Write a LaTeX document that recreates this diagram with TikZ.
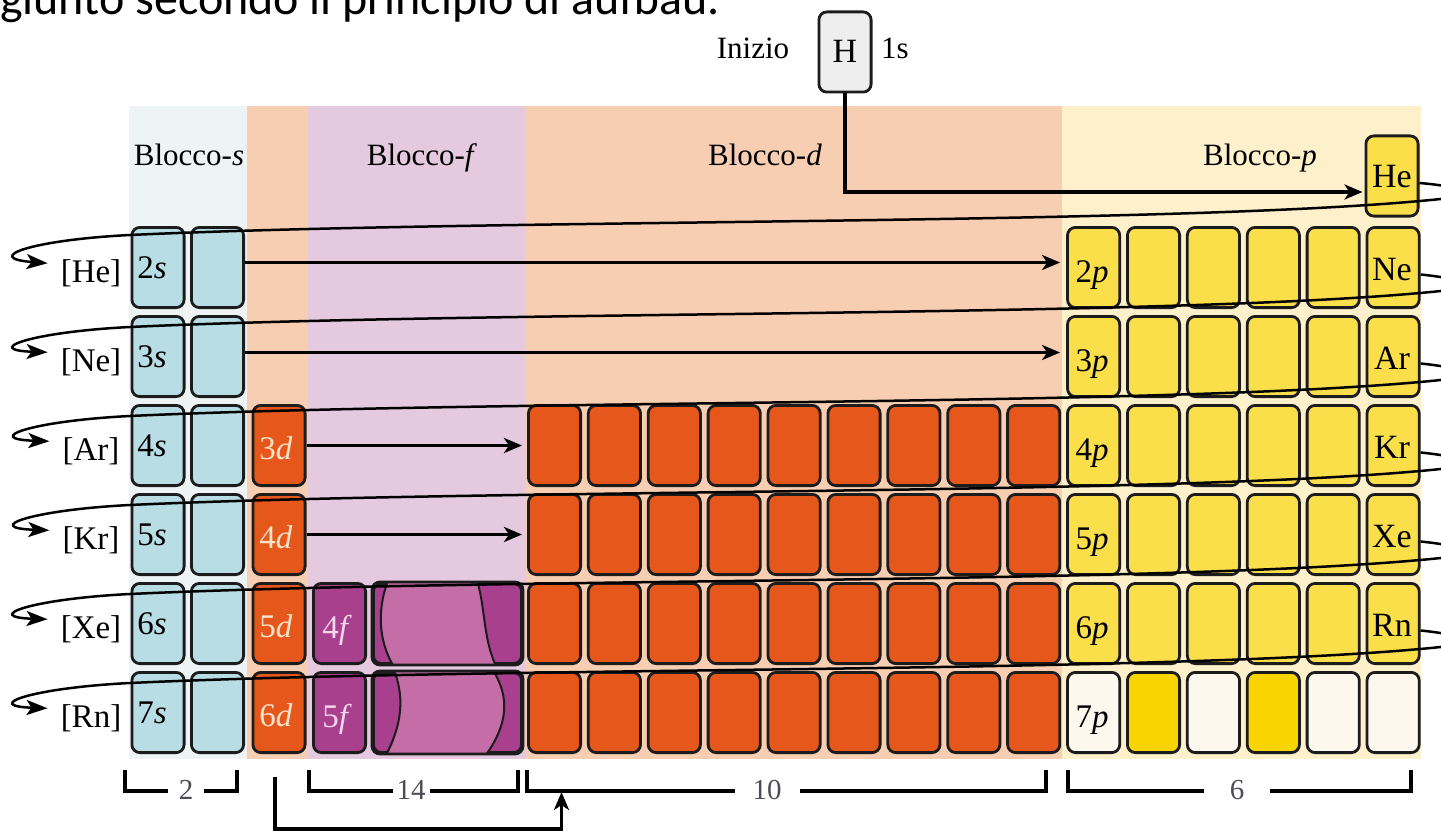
\documentclass[tikz,border=0pt]{standalone}
\usepackage{fontspec}
\setmainfont{Liberation Serif}
\newfontfamily\slidefont{Carlito}
\usetikzlibrary{arrows.meta}

\definecolor{sband}{HTML}{EEF4F3}
\definecolor{dband}{HTML}{F7CEB2}
\definecolor{fband}{HTML}{E4C9DF}
\definecolor{pband}{HTML}{FDF0CA}
\definecolor{scell}{HTML}{B9DDE5}
\definecolor{dcell}{HTML}{E5571B}
\definecolor{fcell}{HTML}{A8408D}
\definecolor{fmid}{HTML}{C46DA6}
\definecolor{pcell}{HTML}{FADF4B}
\definecolor{gold}{HTML}{F9D400}
\definecolor{cream}{HTML}{FDF8EE}
\definecolor{hcell}{HTML}{EEEEEE}
\definecolor{edge}{HTML}{1C1C1C}
\definecolor{dtext}{HTML}{FBE2CA}
\definecolor{ftext}{HTML}{F6D6EC}
\definecolor{numgrey}{HTML}{4D4D57}

\begin{document}
\begin{tikzpicture}[x=1pt,y=-1pt,
  cell/.style={draw=edge, line width=2.8pt, rounded corners=8pt,
    minimum width=52.2pt, minimum height=80.2pt, inner sep=0pt},
  txt/.style={font=\fontsize{31}{36}\selectfont, inner sep=0pt, anchor=base},
  lbl/.style={font=\fontsize{33}{38}\selectfont, inner sep=0pt, anchor=base},
  sym/.style={font=\fontsize{34}{38}\selectfont, inner sep=0pt, anchor=base},
  num/.style={font=\fontsize{29}{32}\selectfont, inner sep=0pt, text=numgrey},
  arr/.style={line width=3.6pt, -{Stealth[length=18pt,width=15pt,inset=5pt]}},
  loopline/.style={line width=2.5pt, -{Stealth[length=21pt,width=15pt,inset=5pt]}},
  wave/.style={draw=edge, line width=2pt},
  brk/.style={line width=3.8pt}
]
\useasboundingbox (0,0) rectangle (1441,832);

% heading line of the slide, cut by the page edge
\node[anchor=base west, inner sep=0pt, font=\slidefont\fontsize{48}{52}\selectfont]
  (headline) at (0,15) {giunto secondo il principio di aufbau.};

% block bands
\fill[sband] (129,106) rectangle (247,759);
\fill[dband] (247,106) rectangle (308,759);
\fill[fband] (308,106) rectangle (526,759);
\fill[dband] (526,106) rectangle (1062,759);
\fill[pband] (1062,106) rectangle (1421,759);

% block titles
\node[txt] (ts) at (189,165) {Blocco-\textit{s}};
\node[txt] (tf) at (422,165) {Blocco-\textit{f}};
\node[txt] (td) at (765,165) {Blocco-\textit{d}};
\node[txt] (tp) at (1260,165) {Blocco-\textit{p}};

% hydrogen
\node[cell, fill=hcell] (H) at (845,52) {};
\node[sym] at (845,63) {H};
\node[txt] (inizio) at (753,59) {Inizio};
\node[txt] (ones) at (895,59) {1s};

% helium
\node[cell, fill=pcell] (He) at (1392,176) {};
\node[sym] at (1392,188) {He};

% s block
\foreach \r/\y in {2/267.5,3/356.5,4/445.5,5/534.5,6/623.5,7/712.5}{
  \node[cell, fill=scell] (s1-\r) at (158,\y) {};
  \node[cell, fill=scell] (s2-\r) at (217.5,\y) {};
  \node[lbl] at (152,\y+11) {\r\textit{s}};
}

% first d column
\foreach \r/\y [evaluate=\r as \n using int(\r-1)] in {4/445.5,5/534.5,6/623.5,7/712.5}{
  \node[cell, fill=dcell] (dc-\r) at (279,\y) {};
  \node[lbl, text=dtext] at (276,\y+14) {\n\textit{d}};
}

% d block
\foreach \r/\y in {4/445.5,5/534.5,6/623.5,7/712.5}{
  \foreach \k in {0,...,8}{
    \node[cell, fill=dcell] (d-\r-\k) at ({554.5+59.9*\k},\y) {};
  }
}

% f block
\foreach \r/\y [evaluate=\r as \n using int(\r-2)] in {6/623.5,7/712.5}{
  \node[cell, fill=fcell] (f1-\r) at (339.5,\y) {};
  \node[cell, fill=fcell, minimum width=148.2pt] (fw-\r) at (447.5,\y) {};
  \node[lbl, text=ftext] at (337,\y+15) {\n\textit{f}};
}
\begin{scope}
  \clip[rounded corners=8pt] (fw-6.north west) rectangle (fw-6.south east);
  \fill[fmid] (389,578) .. controls (378,605) and (376,640) .. (396,670)
    -- (498,670) .. controls (482,640) and (486,605) .. (476,578) -- cycle;
  \draw[wave] (389,578) .. controls (378,605) and (376,640) .. (396,670);
  \draw[wave] (476,578) .. controls (486,605) and (482,640) .. (498,670);
\end{scope}
\draw[draw=edge, line width=2.8pt, rounded corners=8pt] (fw-6.north west) rectangle (fw-6.south east);
\begin{scope}
  \clip[rounded corners=8pt] (fw-7.north west) rectangle (fw-7.south east);
  \fill[fmid] (393,667) .. controls (404,695) and (404,722) .. (384,759)
    -- (483,759) .. controls (514,718) and (506,690) .. (491,667) -- cycle;
  \draw[wave] (393,667) .. controls (404,695) and (404,722) .. (384,759);
  \draw[wave] (491,667) .. controls (506,690) and (514,718) .. (483,759);
\end{scope}
\draw[draw=edge, line width=2.8pt, rounded corners=8pt] (fw-7.north west) rectangle (fw-7.south east);

% p block
\foreach \r/\y in {2/267.5,3/356.5,4/445.5,5/534.5,6/623.5}{
  \foreach \j in {0,...,5}{
    \node[cell, fill=pcell] (p-\r-\j) at ({1093.6+59.9*\j},\y) {};
  }
}
\foreach \j/\c in {0/cream,1/gold,2/cream,3/gold,4/cream,5/cream}{
  \node[cell, fill=\c] (p-7-\j) at ({1093.6+59.9*\j},712.5) {};
}
\foreach \r/\y in {2/267.5,3/356.5,4/445.5,5/534.5,6/623.5,7/712.5}{
  \node[lbl] at (1092,\y+15) {\r\textit{p}};
}
\foreach \r/\y/\g in {2/267.5/Ne,3/356.5/Ar,4/445.5/Kr,5/534.5/Xe,6/623.5/Rn}{
  \node[sym] at (1392,\y+13) {\g};
}

% noble-gas cores at the row starts
\foreach \r/\y/\g/\nm in {2/267.5/He/lhe,3/356.5/Ne/lne,4/445.5/Ar/lar,5/534.5/Kr/lkr,6/623.5/Xe/lxe,7/712.5/Rn/lrn}{
  \node[lbl] (\nm) at (91,\y+15) {[\g]};
}

% filling order arrows
\draw[arr, shorten >=2pt] (H.south) |- ([yshift=-16pt]He.west);
\draw[arr, shorten >=6pt] ([yshift=5pt]s2-2.east) -- ([yshift=5pt]p-2-0.west);
\draw[arr, shorten >=6pt] ([yshift=4pt]s2-3.east) -- ([yshift=4pt]p-3-0.west);
\draw[arr, shorten >=5pt] (dc-4.east) -- (d-4-0.west);
\draw[arr, shorten >=5pt] (dc-5.east) -- (d-5-0.west);

% return sweeps from each noble gas to the next period
\foreach \src/\dst/\T in {He/lhe/134, p-2-5/lne/226, p-3-5/lar/315, p-4-5/lkr/404, p-5-5/lxe/493, p-6-5/lrn/582}{
  \draw[loopline] ([yshift=-7pt]\src.east)
    .. controls (1455,\T+52) and (1478,\T+58) .. (1450,\T+64)
    .. controls (1200,\T+92) and (500,\T+84) .. (130,\T+101)
    .. controls (30,\T+106) and (-18,\T+124) .. ([xshift=-13pt,yshift=10pt]\dst.west);
}

% lanthanide/actinide insertion arrow
\coordinate (dstart) at ([xshift=-4pt,yshift=-23pt]dc-7.south);
\coordinate (dend) at ([xshift=7pt,yshift=-38pt]d-7-0.south);
\draw[arr] (dstart) -- ++(0,52) -| (dend);

% block widths
\draw[brk] (125,770) |- (168,791);
\draw[brk] (204,791) -| (237,770);
\node[num] (n2) at (186,790) {2};
\draw[brk] (309,770) |- (393,791);
\draw[brk] (430,791) -| (518,770);
\node[num] (n14) at (411,790) {14};
\draw[brk] (527,770) |- (735,791);
\draw[brk] (800,791) -| (1046,770);
\node[num] (n10) at (767,790) {10};
\draw[brk] (1068,770) |- (1204,791);
\draw[brk] (1270,791) -| (1411,770);
\node[num] (n6) at (1237,790) {6};
\end{tikzpicture}
\end{document}
